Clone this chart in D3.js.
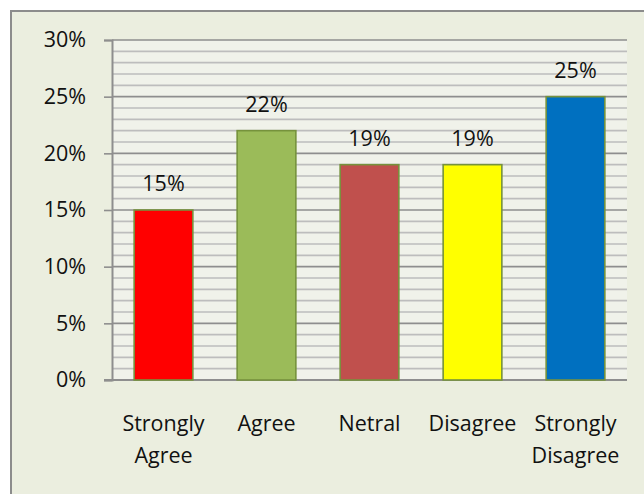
<!DOCTYPE html>
<html>
<head>
<meta charset="utf-8">
<script src="https://cdn.jsdelivr.net/npm/d3@7"></script>
<style>
  html, body { margin: 0; padding: 0; background: #ffffff; }
  svg { display: block; }
  text { font-family: "Open Sans", "Noto Sans", sans-serif; fill: #111; }
</style>
</head>
<body>
<svg id="chart" width="644" height="494"></svg>
<script>
// Survey responses, share of respondents per answer
const categories = ["Strongly Agree", "Agree", "Netral", "Disagree", "Strongly Disagree"];
const labelLines = [["Strongly", "Agree"], ["Agree"], ["Netral"], ["Disagree"], ["Strongly", "Disagree"]];
const values = [15, 22, 19, 19, 25];
const barColors = ["#FF0000", "#9BBB59", "#C0504D", "#FFFF00", "#0070C0"];
const yTicks = [0, 5, 10, 15, 20, 25, 30];

const svg = d3.select("#chart");
const W = 644, H = 494;
const plot = { left: 112, top: 40, right: 627, bottom: 380 };
const FS = 21.5;

// chart area with frame
svg.append("rect")
  .attr("x", 11).attr("y", 11)
  .attr("width", W + 20).attr("height", H + 20)
  .attr("fill", "#EBEEDF")
  .attr("stroke", "#8C8C8C").attr("stroke-width", 2);

const x = d3.scaleBand()
  .domain(categories)
  .range([plot.left, plot.right])
  .paddingInner(0.43)
  .paddingOuter(0.215);

const y = d3.scaleLinear()
  .domain([0, 30])
  .range([plot.bottom, plot.top]);

// plot background
svg.append("rect")
  .attr("x", plot.left).attr("y", plot.top)
  .attr("width", plot.right - plot.left).attr("height", plot.bottom - plot.top)
  .attr("fill", "#F0F2EA");

// minor gridlines every 1%
svg.append("g")
  .selectAll("line")
  .data(d3.range(1, 30).filter(v => v % 5 !== 0))
  .join("line")
  .attr("x1", plot.left).attr("x2", plot.right)
  .attr("y1", d => y(d)).attr("y2", d => y(d))
  .attr("stroke", "#BDBDBD").attr("stroke-width", 1.6);

// major gridlines every 5%
svg.append("g")
  .selectAll("line")
  .data(yTicks.filter(v => v > 0))
  .join("line")
  .attr("x1", plot.left).attr("x2", plot.right)
  .attr("y1", d => y(d)).attr("y2", d => y(d))
  .attr("stroke", "#8E8E8E").attr("stroke-width", 1.6);

// y axis
const yAxis = svg.append("g")
  .attr("transform", `translate(${plot.left},0)`)
  .call(d3.axisLeft(y).tickValues(yTicks).tickSize(8).tickPadding(18).tickFormat(d => d + "%"));
yAxis.attr("font-size", FS).attr("font-family", "Open Sans");
yAxis.select(".domain").attr("stroke", "#8E8E8E").attr("stroke-width", 2);
yAxis.selectAll(".tick line").attr("stroke", "#8E8E8E").attr("stroke-width", 1.6);
yAxis.selectAll(".tick text").attr("fill", "#111");

// x axis baseline
svg.append("line")
  .attr("x1", plot.left - 8).attr("x2", plot.right)
  .attr("y1", y(0)).attr("y2", y(0))
  .attr("stroke", "#8E8E8E").attr("stroke-width", 2);

// bars
svg.append("g")
  .selectAll("rect")
  .data(values)
  .join("rect")
  .attr("x", (d, i) => x(categories[i]))
  .attr("y", d => y(d))
  .attr("width", x.bandwidth())
  .attr("height", d => y(0) - y(d))
  .attr("fill", (d, i) => barColors[i])
  .attr("stroke", "#76923C").attr("stroke-width", 1.6);

// value labels
svg.append("g")
  .selectAll("text")
  .data(values)
  .join("text")
  .attr("x", (d, i) => x(categories[i]) + x.bandwidth() / 2)
  .attr("y", d => y(d) - 19)
  .attr("text-anchor", "middle")
  .attr("font-size", FS)
  .text(d => d + "%");

// category labels
const cat = svg.append("g")
  .selectAll("text")
  .data(categories)
  .join("text")
  .attr("x", d => x(d) + x.bandwidth() / 2)
  .attr("y", 431)
  .attr("text-anchor", "middle")
  .attr("font-size", FS);
cat.selectAll("tspan")
  .data((d, i) => labelLines[i])
  .join("tspan")
  .attr("x", function () { return d3.select(this.parentNode).attr("x"); })
  .attr("dy", (d, j) => j === 0 ? 0 : 32)
  .text(d => d);
</script>
</body>
</html>
